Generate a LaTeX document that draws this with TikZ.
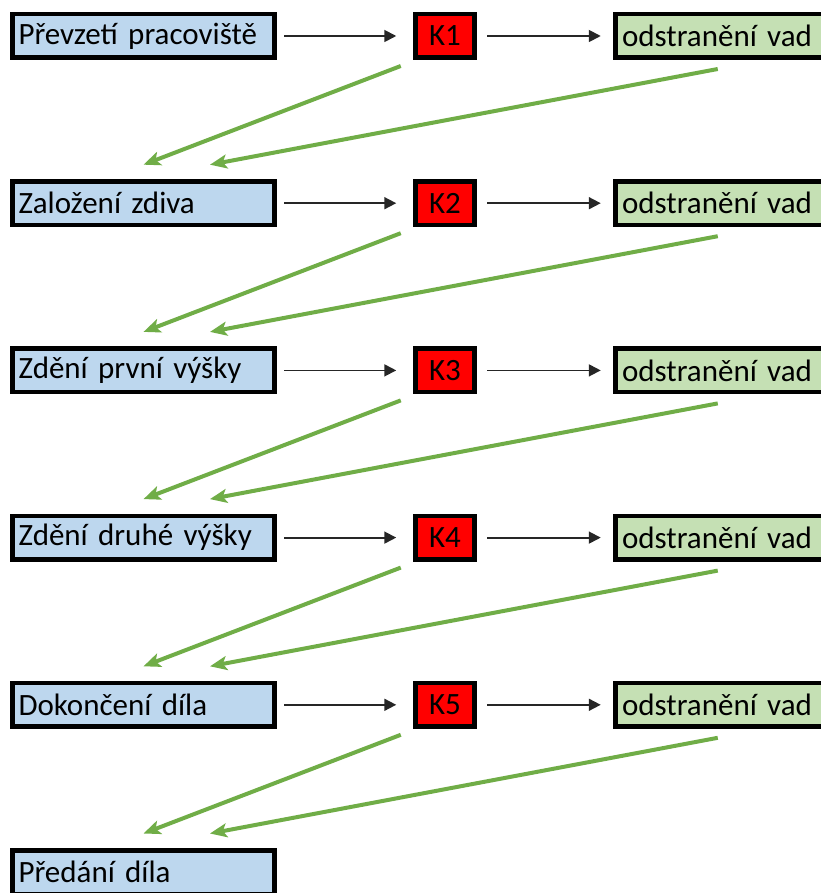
\documentclass[tikz,border=0pt]{standalone}
\usepackage{fontspec}
\setmainfont{Carlito}
\usetikzlibrary{arrows.meta}
\definecolor{stageblue}{HTML}{BDD7EE}
\definecolor{fixgreen}{HTML}{C5E0B4}
\definecolor{backgreen}{HTML}{70AD47}

\begin{document}
\begin{tikzpicture}[x=1pt,y=1pt,
    box/.style={draw, line width=4.5pt, minimum height=43.5pt, inner sep=0pt,
      font=\fontsize{31}{36}\selectfont},
    stage/.style={box, fill=stageblue, minimum width=262pt, text width=250pt, align=left},
    check/.style={box, fill=red, minimum width=59pt},
    fix/.style={box, fill=fixgreen, minimum width=230pt, text width=217pt, align=left},
    flow/.style={draw=black!85, line width=1.8pt, -{Triangle[length=12pt,width=12pt]}},
    back/.style={draw=backgreen, line width=4pt, -{Stealth[length=17pt,width=14pt,inset=4pt]}}]
    \useasboundingbox (0,0) rectangle (820,-893);

    % stages
    \foreach \i/\name in {1/Převzetí pracoviště, 2/Založení zdiva, 3/Zdění první výšky,
        4/Zdění druhé výšky, 5/Dokončení díla, 6/Předání díla}
        \node[stage] (s\i) at (143.5,{-36-167.2*(\i-1)}) {\name};

    % checks and repairs
    \foreach \i in {1,...,5} {
        \node[check] (k\i) at (445,{-36-167.2*(\i-1)}) {K\i};
        \node[fix] (f\i) at (730.5,{-36-167.2*(\i-1)}) {odstranění vad};
    }

    \foreach \i [evaluate=\i as \j using int(\i+1)] in {1,...,5} {
        \draw[flow, shorten <=7.5pt, shorten >=17pt] (s\i) -- (k\i);
        \draw[flow, shorten <=10.5pt, shorten >=12.5pt] (k\i) -- (f\i);
        \draw[back] ([shift={(-12.5,-6)}]k\i.south west) -- ([shift={(0,14.5)}]s\j.north);
        \draw[back] ([shift={(104.5,-9)}]f\i.south west) -- ([shift={(66.5,14.5)}]s\j.north);
    }
\end{tikzpicture}
\end{document}
